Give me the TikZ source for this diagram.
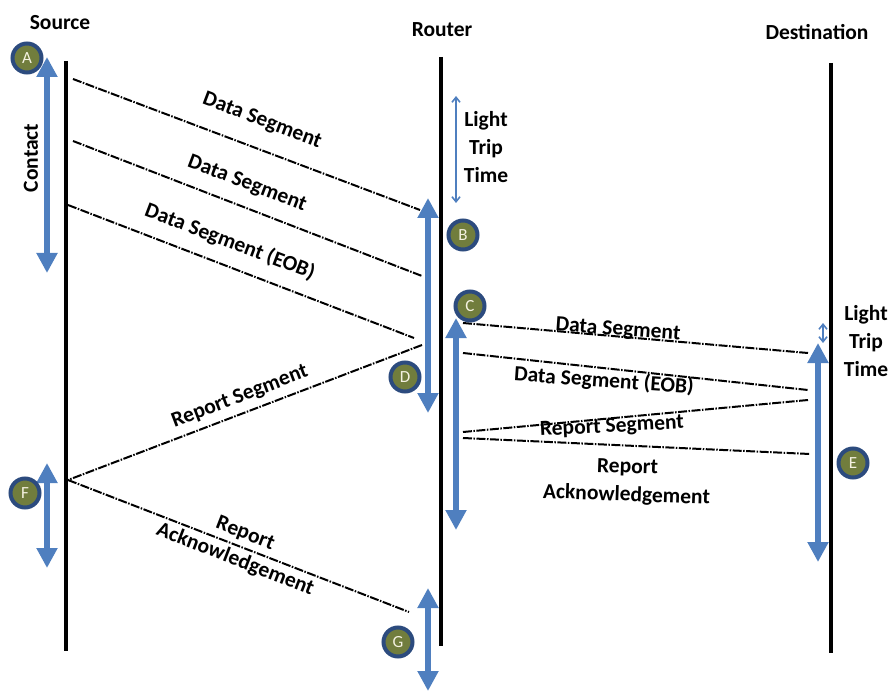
\documentclass[tikz,border=0pt]{standalone}
\usepackage{fontspec}
\setmainfont{Carlito}
\usetikzlibrary{arrows.meta}
\definecolor{spanblue}{HTML}{4F7FBF}
\definecolor{ringblue}{HTML}{2C4B7E}
\definecolor{markolive}{HTML}{717D3D}
\definecolor{markletter}{HTML}{F4F1E0}

\begin{document}
\begin{tikzpicture}[x=1pt,y=-1pt,
  lifeline/.style={line width=4pt, black},
  msg/.style={line width=2pt, black, dash pattern=on 9pt off 1.5pt on 1.5pt off 1.5pt},
  span/.style={line width=6pt, spanblue,
    {Triangle[width=20pt,length=20pt]}-{Triangle[width=20pt,length=20pt]}},
  thinspan/.style={line width=1.6pt, spanblue,
    {Straight Barb[width=8pt,length=5pt]}-{Straight Barb[width=8pt,length=5pt]}},
  marker/.style={circle, fill=markolive, draw=ringblue, line width=4pt,
    minimum size=29pt, inner sep=0pt, text=markletter,
    font=\fontsize{17}{17}\selectfont},
  lbl/.style={font=\bfseries\fontsize{21.5}{28}\selectfont, align=center, inner sep=0pt},
]
\useasboundingbox (0,0) rectangle (896,692);

% column headings
\node[lbl] (src) at (60,23) {Source};
\node[lbl] (rtr) at (442,30) {Router};
\node[lbl] (dst) at (817,32) {Destination};

% lifelines
\coordinate (srcTop) at (66,61);  \coordinate (srcBot) at (66,651);
\coordinate (rtrTop) at (441,57); \coordinate (rtrBot) at (441,646);
\coordinate (dstTop) at (831,63); \coordinate (dstBot) at (831,653);
\draw[lifeline] (srcTop) -- (srcBot);
\draw[lifeline] (rtrTop) -- (rtrBot);
\draw[lifeline] (dstTop) -- (dstBot);

% first hop: source -> router
\coordinate (m1a) at (73,79);   \coordinate (m1b) at (420,210);
\coordinate (m2a) at (73,141);  \coordinate (m2b) at (422,276);
\coordinate (m3a) at (68,205);  \coordinate (m3b) at (414,338);
\coordinate (rs1a) at (422,345); \coordinate (rs1b) at (68,480);
\coordinate (ra1a) at (68,480);  \coordinate (ra1b) at (409,612);
\draw[msg] (m1a) -- (m1b);
\draw[msg] (m2a) -- (m2b);
\draw[msg] (m3a) -- (m3b);
\draw[msg] (rs1a) -- (rs1b);
\draw[msg] (ra1a) -- (ra1b);

\node[lbl, rotate=-20.7] (l1) at (262,121) {Data Segment};
\node[lbl, rotate=-20.7] (l2) at (247,184) {Data Segment};
\node[lbl, rotate=-20.7] (l3) at (230,242) {Data Segment (EOB)};
\node[lbl, rotate=20.9] (l4) at (240,397) {Report Segment};
\node[lbl, rotate=-21.2] (l5) at (240,547) {Report\\Acknowledgement};

% second hop: router -> destination
\coordinate (d1a) at (463,323);  \coordinate (d1b) at (808,353);
\coordinate (d2a) at (463,353);  \coordinate (d2b) at (808,390);
\coordinate (rs2a) at (808,400); \coordinate (rs2b) at (463,432);
\coordinate (ra2a) at (463,438); \coordinate (ra2b) at (810,454);
\draw[msg] (d1a) -- (d1b);
\draw[msg] (d2a) -- (d2b);
\draw[msg] (rs2a) -- (rs2b);
\draw[msg] (ra2a) -- (ra2b);

\node[lbl, rotate=-4] (r1) at (618,330) {Data Segment};
\node[lbl, rotate=-4] (r2) at (604,381) {Data Segment (EOB)};
\node[lbl, rotate=3] (r3) at (612,427) {Report Segment};
\node[lbl, rotate=-2] (r4) at (627,482) {Report\\Acknowledgement};

% contact / activity spans
\coordinate (cA1) at (47,57);   \coordinate (cA2) at (47,273);
\coordinate (cB1) at (428,198); \coordinate (cB2) at (428,413);
\coordinate (cC1) at (456,318); \coordinate (cC2) at (456,530);
\coordinate (cE1) at (818,343); \coordinate (cE2) at (818,562);
\coordinate (cF1) at (47,463);  \coordinate (cF2) at (47,568);
\coordinate (cG1) at (428,588); \coordinate (cG2) at (428,691);
\draw[span] (cA1) -- (cA2);
\draw[span] (cB1) -- (cB2);
\draw[span] (cC1) -- (cC2);
\draw[span] (cE1) -- (cE2);
\draw[span] (cF1) -- (cF2);
\draw[span] (cG1) -- (cG2);

\node[lbl, rotate=90] (contact) at (31,158) {Contact};

% light trip time
\coordinate (lt1a) at (456,96);  \coordinate (lt1b) at (456,203);
\coordinate (lt2a) at (823,323); \coordinate (lt2b) at (823,343);
\draw[thinspan] (lt1a) -- (lt1b);
\draw[thinspan] (lt2a) -- (lt2b);
\node[lbl] (ltt1) at (486,147) {Light\\Trip\\Time};
\node[lbl] (ltt2) at (866,341) {Light\\Trip\\Time};

% event markers
\node[marker] (A) at (27,58) {A};
\node[marker] (B) at (463,235) {B};
\node[marker] (C) at (470,306) {C};
\node[marker] (D) at (405,377) {D};
\node[marker] (E) at (853,463) {E};
\node[marker] (F) at (25,493) {F};
\node[marker] (G) at (398,642) {G};
\end{tikzpicture}
\end{document}
